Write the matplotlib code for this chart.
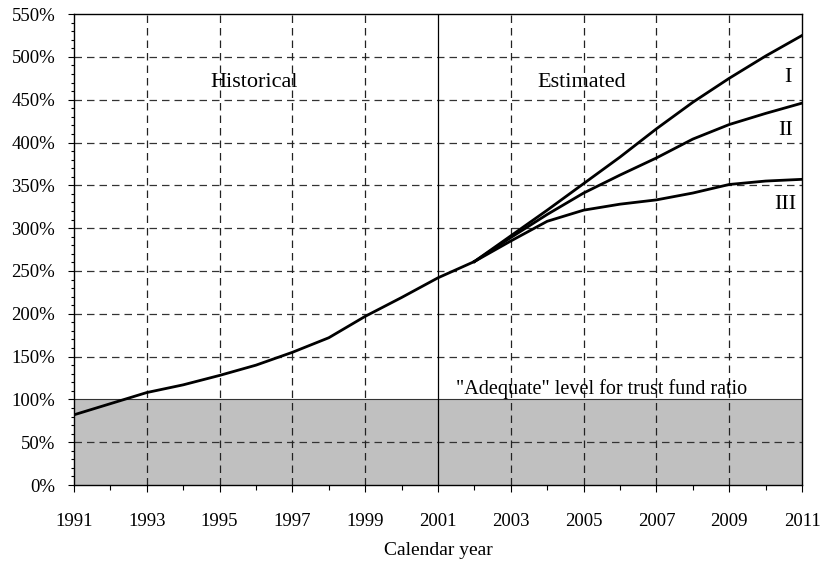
import matplotlib
matplotlib.use("Agg")
import matplotlib.pyplot as plt
from matplotlib.ticker import MultipleLocator, FuncFormatter

plt.rcParams['font.family'] = ['Liberation Serif', 'DejaVu Serif']

hist_years = [1991, 1992, 1993, 1994, 1995, 1996, 1997, 1998, 1999, 2000, 2001, 2002]
hist_vals = [82, 95, 108, 117, 128, 140, 155, 172, 197, 219, 242, 261]

est_years = [2002, 2003, 2004, 2005, 2006, 2007, 2008, 2009, 2010, 2011]
alt_I = [261, 291, 321, 352, 383, 416, 447, 475, 501, 525]
alt_II = [261, 289, 316, 341, 362, 382, 404, 421, 434, 446]
alt_III = [261, 285, 308, 321, 328, 333, 341, 351, 355, 357]

adequate_level = 100
x_ticks = list(range(1991, 2012, 2))

fig = plt.figure(figsize=(8.23, 5.63), dpi=100)
ax = fig.add_axes([0.0899, 0.1385, 0.9745 - 0.0899, 0.975 - 0.1385])

ax.axhspan(0, adequate_level, facecolor='#c0c0c0', edgecolor='none', zorder=0)
ax.axhline(adequate_level, color='#333333', lw=0.8, zorder=1)

for y in range(50, 550, 50):
    if y != adequate_level:
        ax.axhline(y, color='#333333', lw=0.9, ls=(0, (6, 4)), zorder=1)
for x in x_ticks[1:-1]:
    if x == 2001:
        ax.axvline(x, color='black', lw=0.9, zorder=1)
    else:
        ax.axvline(x, color='#222222', lw=0.9, ls=(0, (6, 4)), zorder=1)

lw = 2.0
ax.plot(hist_years, hist_vals, color='black', lw=lw, zorder=3, solid_capstyle='round')
ax.plot(est_years, alt_I, color='black', lw=lw, zorder=3)
ax.plot(est_years, alt_II, color='black', lw=lw, zorder=3)
ax.plot(est_years, alt_III, color='black', lw=lw, zorder=3)

ax.set_xlim(1991, 2011)
ax.set_ylim(0, 550)
ax.set_xticks(x_ticks)
ax.xaxis.set_minor_locator(MultipleLocator(1))
ax.yaxis.set_major_locator(MultipleLocator(50))
ax.yaxis.set_minor_locator(MultipleLocator(10))
ax.yaxis.set_major_formatter(FuncFormatter(lambda v, p: f"{int(v)}%"))
ax.tick_params(axis='x', which='major', direction='out', length=5, width=0.8, labelsize=13.5, pad=15)
ax.tick_params(axis='x', which='minor', direction='out', length=3.5, width=0.8)
ax.tick_params(axis='y', which='major', direction='out', length=4.5, width=0.8, labelsize=13.5, pad=9)
ax.tick_params(axis='y', which='minor', direction='out', length=2.5, width=0.8)
for s in ax.spines.values():
    s.set_linewidth(1.0)
    s.set_color('black')

ax.set_xlabel('Calendar year', fontsize=14, labelpad=9)

ax.text(1995.95, 470, 'Historical', fontsize=16, ha='center', va='center')
ax.text(2004.95, 470, 'Estimated', fontsize=16, ha='center', va='center')
ax.text(2010.6, 476, 'I', fontsize=16, ha='center', va='center')
ax.text(2010.55, 414, 'II', fontsize=16, ha='center', va='center')
ax.text(2010.55, 328, 'III', fontsize=16, ha='center', va='center')
ax.text(2005.5, 112, '"Adequate" level for trust fund ratio', fontsize=14.5, ha='center', va='center')

fig.savefig('out.png', dpi=100)
